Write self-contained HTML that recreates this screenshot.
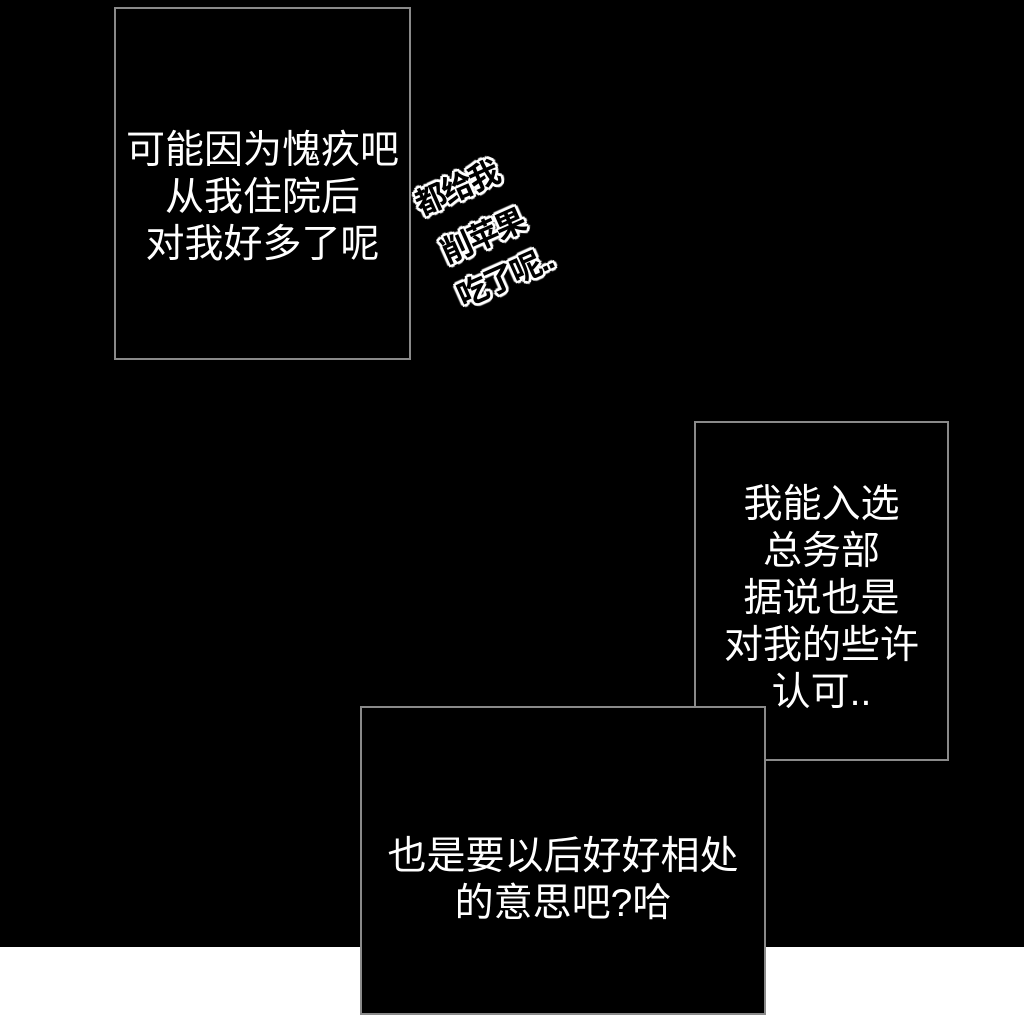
<!DOCTYPE html>
<html><head><meta charset="utf-8"><style>
html,body{margin:0;padding:0}
body{width:1024px;height:1015px;position:relative;background:#fff;overflow:hidden;font-family:"Liberation Sans","Noto Sans CJK SC",sans-serif}
.bg{position:absolute;left:0;top:0;width:1024px;height:947px;background:#000}
.box{position:absolute;background:#000;border:2px solid #8a8a8a;box-sizing:border-box}
.t{position:absolute;color:#fff;font-size:39px;line-height:47px;text-align:center;white-space:nowrap}
.h{position:absolute;color:#000;font-size:31px;font-weight:bold;line-height:36px;white-space:nowrap;transform-origin:0 0;letter-spacing:-2px;
text-shadow:0 0 2px #fff,2px 0 0 #fff,-2px 0 0 #fff,0 2px 0 #fff,0 -2px 0 #fff,2px 2px 0 #fff,-2px -2px 0 #fff,2px -2px 0 #fff,-2px 2px 0 #fff,3px 0 1px #fff,-3px 0 1px #fff,0 3px 1px #fff,0 -3px 1px #fff}
</style></head><body>
<div class="bg"></div>
<div class="box" style="left:114px;top:7px;width:297px;height:353px"></div>
<div class="t" style="left:114px;top:127px;width:297px">可能因为愧疚吧<br>从我住院后<br>对我好多了呢</div>
<div class="box" style="left:694px;top:421px;width:255px;height:340px"></div>
<div class="t" style="left:694px;top:481px;width:255px">我能入选<br>总务部<br>据说也是<br>对我的些许<br>认可..</div>
<div class="box" style="left:360px;top:706px;width:406px;height:309px"></div>
<div class="t" style="left:360px;top:833px;width:406px">也是要以后好好相处<br>的意思吧?哈</div>
<div class="h" style="left:410px;top:190px;transform:rotate(-24deg)">都给我</div>
<div class="h" style="left:436px;top:238px;transform:rotate(-24deg)">削苹果</div>
<div class="h" style="left:452px;top:282px;transform:rotate(-24deg)">吃了呢..</div>
</body></html>
